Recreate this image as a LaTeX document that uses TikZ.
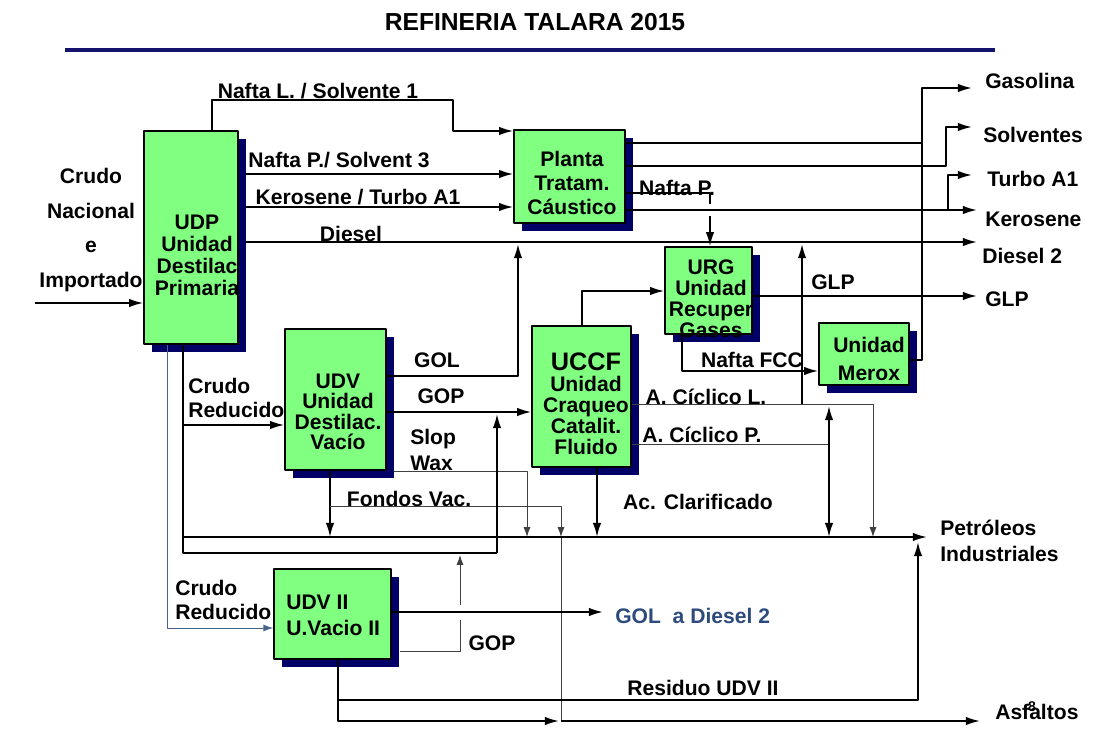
\documentclass[tikz,border=0pt]{standalone}
\usepackage{fontspec}
\setmainfont{Liberation Sans}
\usetikzlibrary{arrows.meta,shadows}
\definecolor{unitgreen}{RGB}{128,255,128}
\definecolor{unitshadow}{RGB}{0,0,102}
\definecolor{titlenavy}{RGB}{20,20,110}
\definecolor{labelblue}{RGB}{44,75,124}
\definecolor{feedblue}{RGB}{70,100,140}
\begin{document}
\begin{tikzpicture}[x=0.025cm, y=-0.025cm, line join=round, >={Latex[length=10pt,width=6pt]},
	unit/.style={draw=black, line width=1.1pt, fill=unitgreen, inner sep=0pt,
		general shadow={fill=unitshadow, shadow xshift=0.2cm, shadow yshift=-0.2cm}},
	unittext/.style={align=center, inner sep=0pt, font=\bfseries\fontsize{15}{15.5}\selectfont},
	lbl/.style={inner sep=0pt, font=\bfseries\fontsize{15}{16}\selectfont},
	outlbl/.style={lbl, anchor=west},
	pipe/.style={line width=1.3pt},
	thinpipe/.style={line width=0.7pt, draw=black!75, >={Latex[length=7pt,width=5pt]}}]
	\useasboundingbox (0,0) rectangle (1100,737);
	
	% Titulo
	\node[font=\bfseries\fontsize{17.5}{18}\selectfont] (title) at (535,22) {REFINERIA TALARA 2015};
	\coordinate (rl) at (65,50); \coordinate (rr) at (995,50);
	\draw[titlenavy, line width=2.2pt] (rl) -- (rr);
	
	% Unidades
	\node[unit, minimum width=2.35cm, minimum height=5.325cm] (udp) at (191,237.5) {};
	\node[unit, minimum width=2.775cm, minimum height=2.325cm] (planta) at (569.5,176.5) {};
	\node[unit, minimum width=2.175cm, minimum height=2.175cm] (urg) at (708.5,290.5) {};
	\node[unit, minimum width=2.475cm, minimum height=3.525cm] (uccf) at (581.5,396.5) {};
	\node[unit, minimum width=2.25cm, minimum height=1.55cm] (merox) at (864,354) {};
	\node[unit, minimum width=2.525cm, minimum height=3.525cm] (udv) at (335.5,399.5) {};
	\node[unit, minimum width=2.925cm, minimum height=2.25cm] (udv2) at (332.5,614) {};
	
	\node[unittext, font=\bfseries\fontsize{15}{15.6}\selectfont] (udp-t) at (197,255) {UDP\\Unidad\\Destilac\\Primaria};
	\node[unittext, font=\bfseries\fontsize{15}{17}\selectfont] (planta-t) at (572,183) {Planta\\Tratam.\\Cáustico};
	\node[unittext, font=\bfseries\fontsize{15}{14.9}\selectfont] (urg-t) at (711,299) {URG\\Unidad\\Recuper\\Gases};
	\node[unittext, font=\bfseries\fontsize{15}{15}\selectfont] (uccf-t) at (586,404) {{\fontsize{18}{18}\selectfont UCCF}\\Unidad\\Craqueo\\Catalit.\\Fluido};
	\node[unittext, font=\bfseries\fontsize{15}{19.8}\selectfont] (merox-t) at (869,359) {Unidad\\Merox};
	\node[unittext, font=\bfseries\fontsize{15}{14.5}\selectfont] (udv-t) at (338,412) {UDV\\Unidad\\Destilac.\\Vacío};
	\node[unittext, align=left, anchor=west, font=\bfseries\fontsize{15}{18.4}\selectfont] (udv2-t) at (286,615) {UDV II\\U.Vacio II};
	
	% Entrada de crudo
	\node[lbl, align=center, font=\bfseries\fontsize{15}{24.8}\selectfont] (crudo) at (91,230) {Crudo\\Nacional\\e\\Importado};
	\coordinate (crin) at (35,303);
	\draw[pipe, ->] (crin) -- (crin -| udp.west);
	
	% Salidas de la UDP
	\coordinate (nl1) at (212,100); \coordinate (nl2) at (453,100); \coordinate (nl3) at (453,131);
	\draw[pipe, ->] (nl1 |- udp.north) -- (nl1) -- (nl2) -- (nl3) -- (nl3 -| planta.west);
	\coordinate (np) at (246,174); \coordinate (ke) at (246,207);
	\coordinate (di) at (246,242); \coordinate (d2) at (977,242);
	\draw[pipe, ->] (np) -- (np -| planta.west);
	\draw[pipe, ->] (ke) -- (ke -| planta.west);
	\draw[pipe, ->] (di) -- (d2);
	\node[lbl] (l-nl) at (318,91) {Nafta L. / Solvente 1};
	\node[lbl] (l-np) at (339,160) {Nafta P./ Solvent 3};
	\node[lbl] (l-ke) at (358,197) {Kerosene / Turbo A1};
	\node[lbl] (l-di) at (351,234) {Diesel};
	
	% Salidas de la planta
	\coordinate (g1) at (922,143); \coordinate (g2) at (922,88); \coordinate (g3) at (972,88);
	\coordinate (s1) at (946,166); \coordinate (s2) at (946,127); \coordinate (s3) at (972,127);
	\coordinate (k1) at (948,210); \coordinate (k2) at (948,175); \coordinate (k3) at (972,175); \coordinate (k4) at (977,210);
	\draw[pipe, ->] (planta.east |- g1) -- (g1) -- (g2) -- (g3);
	\draw[pipe, ->] (planta.east |- s1) -- (s1) -- (s2) -- (s3);
	\draw[pipe, ->] (planta.east |- k1) -- (k4);
	\draw[pipe, ->] (k1) -- (k2) -- (k3);
	\coordinate (na1) at (710,193); \coordinate (na2) at (710,204); \coordinate (na3) at (710,216);
	\draw[pipe] (planta.east |- na1) -- (na1) -- (na2);
	\draw[pipe, ->] (na3) -- (na3 |- urg.north);
	\node[lbl] (l-nap) at (677,188) {Nafta P.};
	
	% URG y Merox
	\coordinate (glp) at (977,296);
	\draw[pipe, ->] (urg.east |- glp) -- (glp);
	\node[lbl] (l-glp) at (833,282) {GLP};
	\coordinate (u1) at (582,291);
	\draw[pipe, ->] (u1 |- uccf.north) -- (u1) -- (u1 -| urg.west);
	\coordinate (f1) at (682,371);
	\draw[pipe, ->] (f1 |- urg.south) -- (f1) -- (f1 -| merox.west);
	\node[lbl] (l-fcc) at (752,360) {Nafta FCC};
	\coordinate (m1) at (922,360);
	\draw[pipe] (merox.east |- m1) -- (m1) -- (g1);
	
	% Salidas de la UDV
	\coordinate (gl1) at (518,376); \coordinate (gl2) at (518,244);
	\draw[pipe, ->] (udv.east |- gl1) -- (gl1) -- (gl2);
	\coordinate (gp) at (394,412);
	\draw[pipe, ->] (udv.east |- gp) -- (gp -| uccf.west);
	\coordinate (sw0) at (394,471); \coordinate (sw1) at (527,471); \coordinate (sw2) at (527,537);
	\draw[thinpipe, ->] (sw0) -- (sw1) -- (sw2);
	\coordinate (pi0) at (183,537); \coordinate (pi1) at (927,537);
	\coordinate (fv1) at (330,506); \coordinate (fv2) at (561,506); \coordinate (fv3) at (561,537);
	\draw[pipe, ->] (fv1 |- udv.south) -- (fv1 |- pi0);
	\draw[thinpipe, ->] (fv1) -- (fv2) -- (fv3);
	\coordinate (as1) at (561,721); \coordinate (as2) at (980,721);
	\draw[thinpipe] (fv3) -- (as1);
	\draw[pipe, ->] (as1) -- (as2);
	\node[lbl] (l-gol) at (437,360) {GOL};
	\node[lbl] (l-gop) at (441,396) {GOP};
	\node[lbl, align=left, anchor=west, font=\bfseries\fontsize{15}{19}\selectfont] (l-sw) at (410,450) {Slop\\Wax};
	\node[lbl] (l-fv) at (409,499) {Fondos Vac.};
	
	% Crudo reducido
	\coordinate (cr1) at (183,425); \coordinate (cr2) at (183,553);
	\coordinate (cr3) at (497,553); \coordinate (cr4) at (497,414);
	\draw[pipe] (cr1 |- udp.south) -- (cr2) -- (cr3);
	\draw[pipe, ->] (cr3) -- (cr4);
	\draw[pipe, ->] (cr1) -- (cr1 -| udv.west);
	\draw[pipe, ->] (pi0) -- (pi1);
	\node[lbl, align=left, anchor=west, font=\bfseries\fontsize{15}{17}\selectfont] (l-cr) at (188,398) {Crudo\\Reducido};
	\coordinate (cb1) at (167,628);
	\draw[feedblue, line width=0.7pt, ->, >={Latex[length=7pt,width=5pt]}] (cb1 |- udp.south) -- (cb1) -- (cb1 -| udv2.west);
	\node[lbl, align=left, anchor=west, font=\bfseries\fontsize{15}{17.7}\selectfont] (l-cr2) at (175,600) {Crudo\\Reducido};
	
	% Salidas de la UCCF
	\coordinate (ac) at (597,537);
	\draw[pipe, ->] (ac |- uccf.south) -- (ac);
	\coordinate (cl1) at (873,404); \coordinate (cl2) at (873,537);
	\draw[thinpipe, ->] (uccf.east |- cl1) -- (cl1) -- (cl2);
	\coordinate (cp1) at (829,444);
	\draw[thinpipe] (uccf.east |- cp1) -- (cp1);
	\coordinate (cv1) at (829,406); \coordinate (cv2) at (829,537);
	\draw[pipe, <->] (cv1) -- (cv2);
	\coordinate (dv1) at (802,404); \coordinate (dv2) at (802,244);
	\draw[pipe, ->] (dv1) -- (dv2);
	\node[lbl] (l-acl) at (706,397) {A. Cíclico L.};
	\node[lbl] (l-acp) at (702,435) {A. Cíclico P.};
	\node[lbl] (l-acc) at (698,502) {Ac. Clarificado};
	
	% Salidas de la UDV II
	\coordinate (gd) at (603,612);
	\draw[pipe, ->] (udv2.east |- gd) -- (gd);
	\node[lbl, text=labelblue, anchor=west] (l-gd) at (615,616) {GOL~ a Diesel 2};
	\coordinate (gq0) at (400,651); \coordinate (gq1) at (460,651); \coordinate (gq2) at (460,620);
	\coordinate (gq3) at (460,605); \coordinate (gq4) at (460,555);
	\draw[thinpipe] (gq0) -- (gq1) -- (gq2);
	\draw[thinpipe, ->] (gq3) -- (gq4);
	\node[lbl] (l-gop2) at (492,643) {GOP};
	\coordinate (r1) at (338,700); \coordinate (r2) at (918,700); \coordinate (r3) at (918,542);
	\coordinate (r4) at (338,721); \coordinate (r5) at (559,721);
	\draw[pipe, ->] (r1 |- udv2.south) -- (r1) -- (r2) -- (r3);
	\draw[pipe, ->] (r1) -- (r4) -- (r5);
	\node[lbl] (l-res) at (703,688) {Residuo UDV II};
	
	% Productos
	\node[outlbl] (o-gas) at (985,81) {Gasolina};
	\node[outlbl] (o-sol) at (983,135) {Solventes};
	\node[outlbl] (o-tur) at (987,179) {Turbo A1};
	\node[outlbl] (o-ker) at (985,219) {Kerosene};
	\node[outlbl] (o-die) at (982,256) {Diesel 2};
	\node[outlbl] (o-glp) at (985,299) {GLP};
	\node[outlbl, align=left, font=\bfseries\fontsize{15}{18}\selectfont] (o-pi) at (940,541) {Petróleos\\Industriales};
	\node[outlbl] (o-asf) at (995,712) {Asfaltos};
	\node[font=\bfseries\fontsize{10}{10}\selectfont] (pagenum) at (1032,707) {8};
\end{tikzpicture}
\end{document}
